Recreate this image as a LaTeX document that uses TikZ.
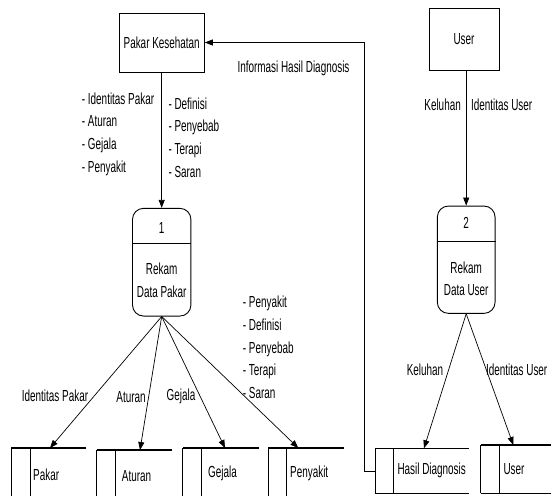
\documentclass[tikz,border=0pt]{standalone}
\usepackage{fontspec}
\setmainfont{Liberation Sans}[FakeStretch=0.62]
\usetikzlibrary{arrows.meta}
\begin{document}
\begin{tikzpicture}[x=1pt,y=-1pt,
  every node/.style={font=\fontsize{16}{22.8}\selectfont, inner sep=0pt},
  entity/.style={draw, line width=0.9pt, inner sep=0pt},
  proc/.style={draw, line width=0.9pt, rounded corners=11pt, inner sep=0pt},
  flow/.style={line width=0.7pt, -{Triangle[length=8pt,width=6pt]}},
  stline/.style={line width=1.2pt},
  stvert/.style={line width=0.8pt},
  storearea/.style={inner sep=0pt, anchor=north west},
  lbl/.style={align=left}]
\useasboundingbox (0,0) rectangle (551,495);

% external entities
\node[entity, minimum width=85.3pt, minimum height=59pt] (pk) at (161.7,42.5) {Pakar Kesehatan};
\node[entity, minimum width=70pt, minimum height=61.2pt] (us) at (464,39.4) {User};

% processes
\node[proc, minimum width=58.4pt, minimum height=107.7pt] (p1) at (161.7,262.2) {};
\draw[line width=0.9pt] ([yshift=-35.7pt]p1.north west) -- ([yshift=-35.7pt]p1.north east);
\node (p1n) at (161.7,228) {1};
\node[align=center] (p1t) at (161.7,280) {Rekam\\Data Pakar};

\node[proc, minimum width=57.7pt, minimum height=107.3pt] (p2) at (466.2,259.7) {};
\draw[line width=0.9pt] ([yshift=-36.3pt]p2.north west) -- ([yshift=-36.3pt]p2.north east);
\node (p2n) at (466.2,223) {2};
\node[align=center] (p2t) at (466.2,278.7) {Rekam\\Data User};

% data stores
\node[storearea, minimum width=75pt, minimum height=52pt] (sPakar) at (11,448) {};
\draw[stline] (sPakar.north east) -- (sPakar.north west);
\draw[stvert] (sPakar.north west) -- (sPakar.south west);
\draw[stvert] ([xshift=19pt]sPakar.north west) -- ([xshift=19pt]sPakar.south west);
\node[anchor=west] (tPakar) at (33,475) {Pakar};

\node[storearea, minimum width=75pt, minimum height=50pt] (sAturan) at (96.7,450) {};
\draw[stline] (sAturan.north east) -- (sAturan.north west);
\draw[stvert] (sAturan.north west) -- (sAturan.south west);
\draw[stvert] ([xshift=19pt]sAturan.north west) -- ([xshift=19pt]sAturan.south west);
\node[anchor=west] (tAturan) at (121.7,476.5) {Aturan};

\node[storearea, minimum width=75.6pt, minimum height=52pt] (sGejala) at (182.7,448) {};
\draw[stline] (sGejala.north east) -- (sGejala.north west);
\draw[stvert] (sGejala.north west) -- (sGejala.south west);
\draw[stvert] ([xshift=19pt]sGejala.north west) -- ([xshift=19pt]sGejala.south west);
\node[anchor=west] (tGejala) at (208,473) {Gejala};

\node[storearea, minimum width=75pt, minimum height=52pt] (sPenyakit) at (268.3,448) {};
\draw[stline] (sPenyakit.north east) -- (sPenyakit.north west);
\draw[stvert] (sPenyakit.north west) -- (sPenyakit.south west);
\draw[stvert] ([xshift=18.4pt]sPenyakit.north west) -- ([xshift=18.4pt]sPenyakit.south west);
\node[anchor=west] (tPenyakit) at (290,473) {Penyakit};

\node[storearea, minimum width=92.6pt, minimum height=45pt] (sHasil) at (375.7,448.3) {};
\draw[stline] (sHasil.north east) -- (sHasil.north west);
\draw[stline] (sHasil.south west) -- (sHasil.south east);
\draw[stvert] (sHasil.north west) -- (sHasil.south west);
\draw[stvert] ([xshift=17.6pt]sHasil.north west) -- ([xshift=17.6pt]sHasil.south west);
\node[anchor=west] (tHasil) at (397.3,470.5) {Hasil Diagnosis};

\node[storearea, minimum width=72pt, minimum height=47.7pt] (sUser) at (480.7,445) {};
\draw[stline] (sUser.north east) -- (sUser.north west);
\draw[stline] (sUser.south west) -- (sUser.south east);
\draw[stvert] (sUser.north west) -- (sUser.south west);
\draw[stvert] ([xshift=18.6pt]sUser.north west) -- ([xshift=18.6pt]sUser.south west);
\node[anchor=west] (tUser) at (503.3,469.5) {User};

% flows
\draw[flow] (pk.south) -- (p1.north);
\draw[flow] (p2.north |- us.south) -- (p2.north);
\draw[flow] (sHasil.west) -- ++(-11.7,0) |- (pk.east);
\draw[flow] (p1.south) -- ([xshift=39pt]sPakar.north west);
\draw[flow] (p1.south) -- ([xshift=43.3pt]sAturan.north west);
\draw[flow] (p1.south) -- ([xshift=42.3pt]sGejala.north west);
\draw[flow] (p1.south) -- ([xshift=30pt]sPenyakit.north west);
\draw[flow] (p2.south) -- ([xshift=48.3pt]sHasil.north west);
\draw[flow] (p2.south) -- ([xshift=32.6pt]sUser.north west);

% labels
\node[lbl, anchor=west] (l1) at (81.7,134.2) {- Identitas Pakar\\- Aturan\\- Gejala\\- Penyakit};
\node[lbl, anchor=west] (l2) at (168.3,137.5) {- Definisi\\- Penyebab\\- Terapi\\- Saran};
\node (l3) at (293.5,68.5) {Informasi Hasil Diagnosis};
\node (l4) at (442.6,104.7) {Keluhan};
\node (l5) at (501.6,104.7) {Identitas User};
\node (l6) at (55,396) {Identitas Pakar};
\node (l7) at (131,396.7) {Aturan};
\node (l8) at (181,396) {Gejala};
\node[lbl, anchor=west] (l9) at (242.7,347.3) {- Penyakit\\- Definisi\\- Penyebab\\- Terapi\\- Saran};
\node (l10) at (425,370) {Keluhan};
\node (l11) at (516.7,370) {Identitas User};
\end{tikzpicture}
\end{document}
